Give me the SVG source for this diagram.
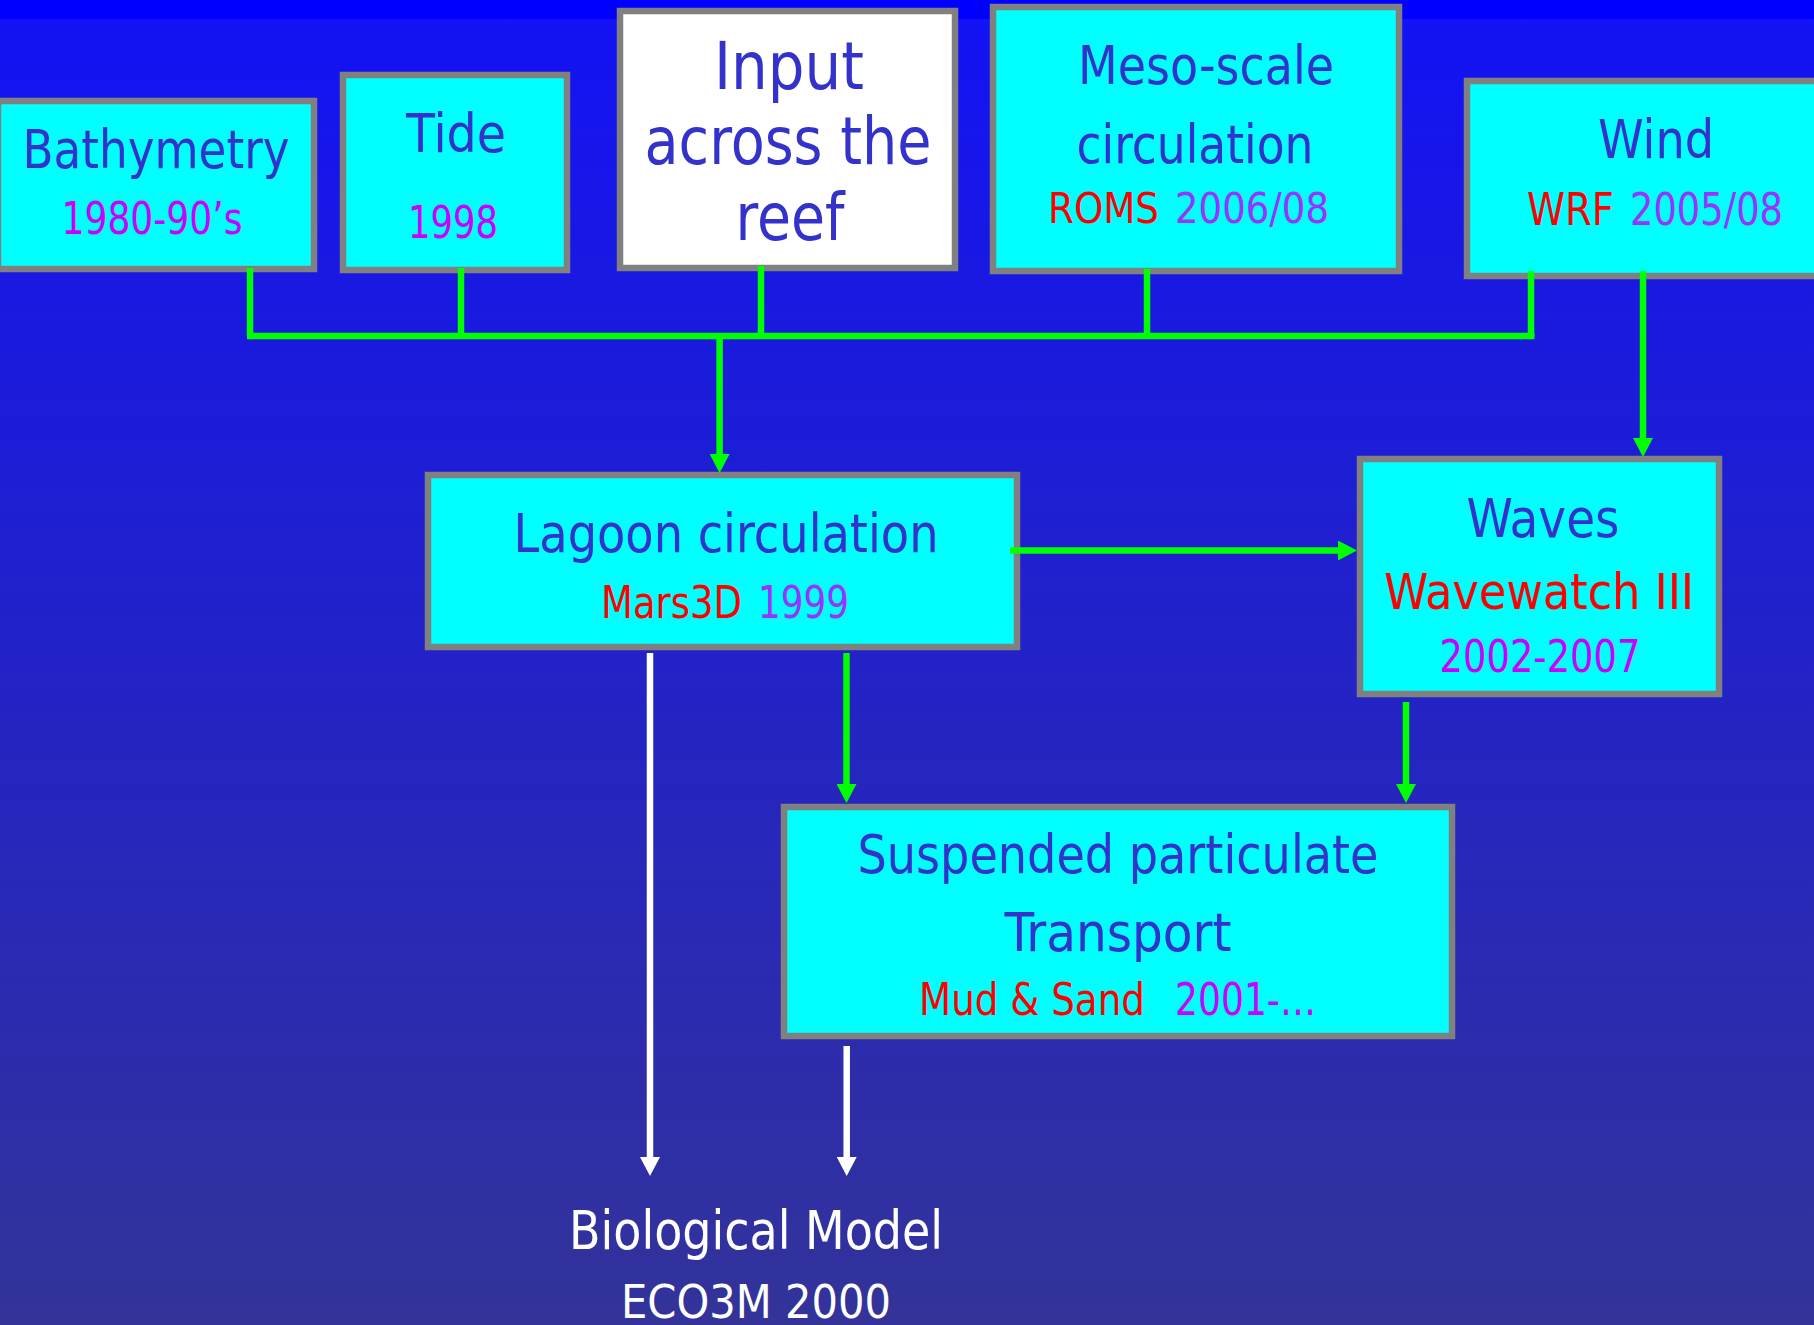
<svg xmlns="http://www.w3.org/2000/svg" width="1814" height="1325" viewBox="0 0 1814 1325">
<defs>
<linearGradient id="bg" x1="0" y1="0" x2="0" y2="1">
<stop offset="0" stop-color="#1212F6"/>
<stop offset="1" stop-color="#333399"/>
</linearGradient>
<marker id="ag" markerUnits="userSpaceOnUse" markerWidth="20" markerHeight="20" refX="9" refY="10" orient="auto" viewBox="0 0 19 20">
<path d="M0,0 L19,10 L0,20 z" fill="#00FF00"/>
</marker>
<marker id="aw" markerUnits="userSpaceOnUse" markerWidth="20" markerHeight="20" refX="9" refY="10" orient="auto" viewBox="0 0 19 20">
<path d="M0,0 L19,10 L0,20 z" fill="#FFFFFF"/>
</marker>
</defs>
<style>
.box{fill:#00FFFF;stroke:#808080;stroke-width:6.5}
.wbox{fill:#FFFFFF;stroke:#808080;stroke-width:6.5}
text{font-family:"DejaVu Sans Condensed","DejaVu Sans",Verdana,sans-serif;text-anchor:middle}
.t{fill:#3333CC;font-size:53px}
.big{fill:#3333CC;font-size:65px}
.r{fill:#FF0000;font-size:44px}
.p{fill:#9933FF;font-size:44px}
.m{fill:#CC00FF;font-size:45px}
.w{fill:#FFFFFF}
.g{stroke:#00FF00;stroke-width:6.5;fill:none}
.gw{stroke:#FFFFFF;stroke-width:6.5;fill:none}
</style>
<rect x="0" y="0" width="1814" height="1325" fill="url(#bg)"/>
<rect x="0" y="0" width="1814" height="19" fill="#0000FF"/>

<g id="bathymetry">
<rect class="box" x="-2" y="101" width="316" height="168"/>
<text class="t" x="156" y="168" textLength="267" lengthAdjust="spacingAndGlyphs">Bathymetry</text>
<text class="m" x="152" y="234" textLength="181" lengthAdjust="spacingAndGlyphs">1980-90’s</text>
</g>
<g id="tide">
<rect class="box" x="343" y="75" width="224" height="195"/>
<text class="t" x="456" y="152" textLength="100" lengthAdjust="spacingAndGlyphs">Tide</text>
<text class="m" x="453" y="238" textLength="90" lengthAdjust="spacingAndGlyphs">1998</text>
</g>
<g id="input">
<rect class="wbox" x="620" y="11" width="335" height="257"/>
<text class="big" x="789" y="89" textLength="150" lengthAdjust="spacingAndGlyphs">Input</text>
<text class="big" x="788" y="164" textLength="287" lengthAdjust="spacingAndGlyphs">across the</text>
<text class="big" x="790" y="240" textLength="109" lengthAdjust="spacingAndGlyphs">reef</text>
</g>
<g id="meso">
<rect class="box" x="993" y="7" width="406" height="264"/>
<text class="t" x="1206" y="84" textLength="256" lengthAdjust="spacingAndGlyphs">Meso-scale</text>
<text class="t" x="1195" y="163" textLength="237" lengthAdjust="spacingAndGlyphs">circulation</text>
<text class="r" x="1048" y="223" style="text-anchor:start;font-size:42px" textLength="111" lengthAdjust="spacingAndGlyphs">ROMS</text>
<text class="p" x="1175" y="223" style="text-anchor:start;font-size:42px" textLength="154" lengthAdjust="spacingAndGlyphs">2006/08</text>
</g>
<g id="wind">
<rect class="box" x="1467" y="81" width="400" height="195"/>
<text class="t" x="1656" y="158" style="font-size:54px" textLength="116" lengthAdjust="spacingAndGlyphs">Wind</text>
<text class="r" x="1527" y="225" style="text-anchor:start" textLength="87" lengthAdjust="spacingAndGlyphs">WRF</text>
<text class="p" x="1630" y="225" style="text-anchor:start" textLength="153" lengthAdjust="spacingAndGlyphs">2005/08</text>
</g>
<g id="lagoon">
<rect class="box" x="428" y="475" width="589" height="172"/>
<text class="t" x="726" y="552" textLength="425" lengthAdjust="spacingAndGlyphs">Lagoon circulation</text>
<text class="r" x="601" y="618" style="text-anchor:start" textLength="141" lengthAdjust="spacingAndGlyphs">Mars3D</text>
<text class="p" x="758" y="618" style="text-anchor:start" textLength="91" lengthAdjust="spacingAndGlyphs">1999</text>
</g>
<g id="waves">
<rect class="box" x="1360" y="459" width="359" height="235"/>
<text class="t" x="1543" y="537" style="font-size:54px" textLength="153" lengthAdjust="spacingAndGlyphs">Waves</text>
<text class="r" x="1539" y="609" style="font-size:49px" textLength="310" lengthAdjust="spacingAndGlyphs">Wavewatch III</text>
<text class="m" x="1540" y="672" style="font-size:44px" textLength="201" lengthAdjust="spacingAndGlyphs">2002-2007</text>
</g>
<g id="suspended">
<rect class="box" x="784" y="807" width="668" height="229"/>
<text class="t" x="1118" y="873" textLength="521" lengthAdjust="spacingAndGlyphs">Suspended particulate</text>
<text class="t" x="1118" y="951" textLength="227" lengthAdjust="spacingAndGlyphs">Transport</text>
<text class="r" x="919" y="1015" style="text-anchor:start" textLength="226" lengthAdjust="spacingAndGlyphs">Mud &amp; Sand</text>
<text class="m" x="1175" y="1015" style="text-anchor:start;font-size:44px" textLength="141" lengthAdjust="spacingAndGlyphs">2001-…</text>
</g>
<g id="biological">
<text class="w" x="756" y="1249" style="font-size:54px" textLength="374" lengthAdjust="spacingAndGlyphs">Biological Model</text>
<text class="w" x="756" y="1318" style="font-size:46px" textLength="270" lengthAdjust="spacingAndGlyphs">ECO3M 2000</text>
</g>

<g id="connectors">
<path class="g" d="M250,268 V336 M461,268 V336 M761,266 V336 M1147,269 V336 M1531,271 V336"/>
<path class="g" d="M247,336 H1534.5"/>
<path class="g" d="M719.6,336 V463" marker-end="url(#ag)"/>
<path class="g" d="M1643,271 V447" marker-end="url(#ag)"/>
<path class="g" d="M1010,550.5 H1347" marker-end="url(#ag)"/>
<path class="g" d="M846.5,653 V793" marker-end="url(#ag)"/>
<path class="g" d="M1406,702 V793" marker-end="url(#ag)"/>
<path class="gw" d="M650,653 V1166" marker-end="url(#aw)"/>
<path class="gw" d="M846.7,1046 V1166" marker-end="url(#aw)"/>
</g>
</svg>
